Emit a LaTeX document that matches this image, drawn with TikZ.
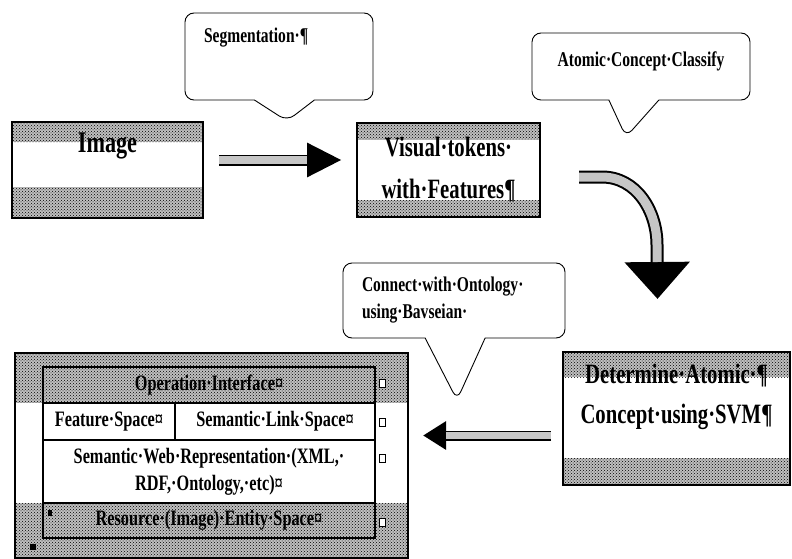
\documentclass[tikz,border=0pt]{standalone}
\usepackage{fontspec}
\newfontfamily\scanfont[FakeStretch=0.74]{Liberation Serif}
\usetikzlibrary{arrows.meta,patterns,shapes.callouts,positioning}

\tikzset{
	speckle/.style={fill=gray!50,postaction={pattern=crosshatch dots,pattern color=black}},
	bandbox/.style 2 args={draw,line width=2pt,inner sep=0pt,
		path picture={
			\fill[speckle] (path picture bounding box.north west) rectangle ([yshift=-#1]path picture bounding box.north east);
			\fill[speckle] (path picture bounding box.south west) rectangle ([yshift=#2]path picture bounding box.south east);}},
	balloon/.style={rectangle callout,draw,line width=0.9pt,rounded corners=9pt,inner sep=0pt,
		font=\scanfont\bfseries\fontsize{21}{27}\selectfont},
	cell/.style={draw,line width=1.4pt,inner sep=0pt,outer sep=0pt,fill=white,
		font=\scanfont\bfseries\fontsize{22}{27}\selectfont},
	endmark/.style={draw,line width=0.8pt,minimum width=6pt,minimum height=8pt,inner sep=0pt},
	blockarrow/.style n args={4}{line width=#1,-{Triangle[length=#2,width=#3]},
		postaction={draw=gray!45,-,line width=#4,shorten >=#2}}
}

\begin{document}
\begin{tikzpicture}[x=1pt,y=-1pt]
	\useasboundingbox (0,0) rectangle (792,559);

	% processing steps
	\node[bandbox={20pt}{31pt},minimum width=191pt,minimum height=96pt,text height=21pt,text depth=57pt,
		font=\scanfont\bfseries\fontsize{30}{36}\selectfont] (img) at (107.5,170) {Image};
	\node[bandbox={17pt}{17pt},minimum width=183pt,minimum height=94pt,align=center,
		font=\scanfont\bfseries\fontsize{28}{42}\selectfont] (vis) at (448.5,170) {Visual·tokens·\\with·Features¶};
	\node[bandbox={25pt}{27pt},minimum width=227pt,minimum height=133pt,align=center,
		font=\scanfont\bfseries\fontsize{28}{40}\selectfont] (det) at (676.5,418.5) {Determine·Atomic·¶\\Concept·using·SVM¶\\[10pt]\mbox{}};

	% space model
	\node[draw,line width=2pt,minimum width=393pt,minimum height=205pt,inner sep=0pt,
		path picture={
			\fill[speckle] (path picture bounding box.north west) rectangle (path picture bounding box.south east);
			\fill[white] ([yshift=-50pt]path picture bounding box.north west) rectangle ([yshift=55pt]path picture bounding box.south east);}]
		(space) at (211.5,455.5) {};
	\node[cell,speckle,minimum width=332pt,minimum height=36pt] (opif) at (209,385) {Operation·Interface¤};
	\node[cell,minimum width=132pt,minimum height=37pt,below right=0pt and 0pt of opif.south west] (featsp) {Feature·Space¤};
	\node[cell,minimum width=200pt,minimum height=37pt,right=0pt of featsp] (linksp) {Semantic·Link·Space¤};
	\node[cell,minimum width=332pt,minimum height=63pt,align=center,below right=0pt and 0pt of featsp.south west] (webrep)
		{Semantic·Web·Representation·(XML,·\\RDF,·Ontology,·etc)¤};
	\node[cell,speckle,minimum width=332pt,minimum height=35pt,below right=0pt and 0pt of webrep.south west] (ressp)
		{Resource·(Image)·Entity·Space¤};
	\foreach \y [count=\i] in {383,422,458,522}
		\node[endmark,fill=white] (eol\i) at (382,\y) {};
	\node[fill,minimum size=6pt,inner sep=0pt] (blk1) at (33,547) {};
	\node[fill,minimum width=4pt,minimum height=6pt,inner sep=0pt] (blk2) at (50,513) {};

	% arrows
	\draw[blockarrow={11pt}{35pt}{32pt}{8pt}] ([xshift=15pt,yshift=10pt]img.east) -- ([xshift=-14pt,yshift=10pt]vis.west);
	\draw[blockarrow={13pt}{37pt}{63pt}{9pt}] ([xshift=38pt,yshift=-7pt]vis.east) -- (602,177)
		to[out=0,in=90] (657,245) -- ([xshift=-19pt,yshift=52pt]det.north);
	\draw[blockarrow={10pt}{23pt}{27pt}{7pt}] ([xshift=-11pt,yshift=-17pt]det.west) -- ([xshift=14pt,yshift=20pt]space.east);

	% callouts
	\node[balloon,minimum width=188pt,minimum height=87pt,text width=150pt,text height=14pt,text depth=41pt,
		callout absolute pointer={(287,121)},callout pointer width=60pt] (seg) at (279,56.5) {Segmentation·¶};
	\node[balloon,minimum width=218pt,minimum height=67pt,text height=14pt,text depth=14pt,
		callout absolute pointer={(626,137)},callout pointer width=50pt] (atom) at (641,66.5) {Atomic·Concept·Classify};
	\node[balloon,minimum width=222pt,minimum height=75pt,text width=184pt,align=left,
		callout absolute pointer={(457,400)},callout pointer width=60pt] (onto) at (454,300.5)
		{Connect·with·Ontology·\\using·Bavseian·};
\end{tikzpicture}
\end{document}
